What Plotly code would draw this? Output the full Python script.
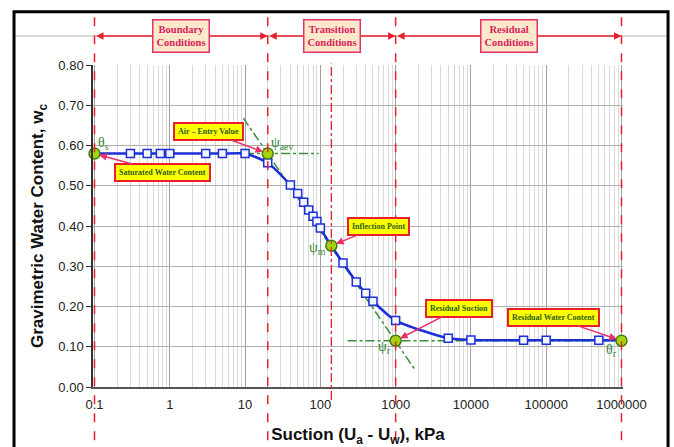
import math
import plotly.graph_objects as go

# ---------------- data ----------------
sq_suction = [0.3, 0.5, 0.75, 1, 3, 5, 10, 20, 40, 50, 60, 70, 80, 90, 100,
              200, 300, 400, 500, 1000, 5000, 10000, 50000, 100000, 500000]
sq_water = [0.58, 0.58, 0.58, 0.58, 0.58, 0.58, 0.58, 0.557, 0.502, 0.481, 0.459,
            0.440, 0.424, 0.411, 0.395, 0.308, 0.261, 0.233, 0.213, 0.165,
            0.121, 0.117, 0.116, 0.116, 0.116]

key_suction = [0.1, 20, 140, 1000, 1000000]
key_water = [0.58, 0.58, 0.351, 0.115, 0.115]

curve_suction = [0.1] + sq_suction[:15] + [140] + sq_suction[15:] + [1000000]
curve_water = [0.58] + sq_water[:15] + [0.351] + sq_water[15:] + [0.116]

aev_line_x = [10, 95]
aev_line_y = [0.58, 0.58]
tangent_x = [9.5, 1850]
tangent_y = [0.668, 0.040]
res_line_x = [230, 1000000]
res_line_y = [0.115, 0.115]

zone_bounds = [0.1, 20, 1000, 1000000]
zone_labels = ["Boundary<br>Conditions", "Transition<br>Conditions", "Residual<br>Conditions"]
inflection_x = 140

x_tickvals = [0.1, 1, 10, 100, 1000, 10000, 100000, 1000000]
x_ticktext = ["0.1", "1", "10", "100", "1000", "10000", "100000", "1000000"]
y_tickvals = [0.0, 0.1, 0.2, 0.3, 0.4, 0.5, 0.6, 0.7, 0.8]

callouts = [  # text, head (x, y), tail (x, y)
    ("Saturated Water Content", 0.1, 0.58, 0.81, 0.533),
    ("Air \u2013 Entry Value", 20, 0.58, 3.3, 0.634),
    ("Inflection Point", 140, 0.351, 592, 0.399),
    ("Residual Suction", 1000, 0.115, 6900, 0.196),
    ("Residual Water Content", 1000000, 0.115, 123600, 0.173),
]
greek = [  # text, x, y
    ("\u03b8<sub>s</sub>", 0.132, 0.606),
    ("\u03c8<sub>aev</sub>", 31, 0.606),
    ("\u03c8<sub>m</sub>", 93, 0.343),
    ("\u03c8<sub>r</sub>", 720, 0.097),
    ("\u03b8<sub>r</sub>", 740000, 0.090),
]

# ---------------- figure ----------------
BLUE = "#1c2fd8"
GREEN_DD = "#3c8c3c"
RED = "#e8202e"
PINK = "#e8306a"

fig = go.Figure()

fig.add_trace(go.Scatter(x=aev_line_x, y=aev_line_y, mode="lines",
                         line=dict(color=GREEN_DD, width=1.5, dash="dashdot"), hoverinfo="skip"))
fig.add_trace(go.Scatter(x=tangent_x, y=tangent_y, mode="lines",
                         line=dict(color=GREEN_DD, width=1.5, dash="dashdot"), hoverinfo="skip"))
fig.add_trace(go.Scatter(x=res_line_x, y=res_line_y, mode="lines",
                         line=dict(color=GREEN_DD, width=1.5, dash="dashdot"), hoverinfo="skip"))

fig.add_trace(go.Scatter(x=curve_suction, y=curve_water, mode="lines",
                         line=dict(color=BLUE, width=2.5, shape="spline", smoothing=0.6)))
fig.add_trace(go.Scatter(x=sq_suction, y=sq_water, mode="markers",
                         marker=dict(symbol="square", size=8, color="#f4f6ff",
                                     line=dict(color=BLUE, width=1.5))))
fig.add_trace(go.Scatter(x=key_suction, y=key_water, mode="markers", cliponaxis=False,
                         marker=dict(symbol="circle", size=11, color="#a6d40a",
                                     line=dict(color="#3f7d12", width=1.5))))

shapes = []
# outer frame
shapes.append(dict(type="rect", xref="paper", yref="paper", x0=-0.149, x1=1.085,
                   y0=-0.3, y1=1.165, line=dict(color="black", width=3), layer="above"))
# light gray line at top
shapes.append(dict(type="line", xref="paper", yref="paper", x0=-0.149, x1=1.085,
                   y0=1.09, y1=1.09, line=dict(color="#d0d0d0", width=1.5), layer="below"))
# zone boundary red dashed lines
for b in zone_bounds:
    shapes.append(dict(type="line", xref="x", yref="paper", x0=b, x1=b, y0=-0.165, y1=1.165,
                       line=dict(color=RED, width=1.5, dash="dash"), layer="above"))
shapes.append(dict(type="line", xref="x", yref="paper", x0=inflection_x, x1=inflection_x,
                   y0=-0.04, y1=1.005, line=dict(color=RED, width=1.3, dash="dashdot"), layer="above"))

annotations = []
# double arrows between zones
for a, b in zip(zone_bounds[:-1], zone_bounds[1:]):
    annotations.append(dict(x=math.log10(b), y=1.09, xref="x", yref="paper",
                            ax=math.log10(a), ay=0, axref="x", ayref="pixel",
                            text="", showarrow=True, arrowhead=2, arrowside="end+start",
                            arrowsize=1, arrowwidth=1.5, arrowcolor=RED, standoff=0,
                            startstandoff=0))
for (a, b), lab in zip(zip(zone_bounds[:-1], zone_bounds[1:]), zone_labels):
    mid = (math.log10(a) + math.log10(b)) / 2
    annotations.append(dict(x=mid, y=1.09, xref="x", yref="paper", text="<b>" + lab + "</b>",
                            xanchor="center", yanchor="middle",
                            showarrow=False, bgcolor="#fde9c9", bordercolor=PINK, borderwidth=1.5,
                            borderpad=3,
                            font=dict(family="Liberation Serif", size=10.5, color="#d81b5c")))
for txt, hx, hy, tx, ty in callouts:
    annotations.append(dict(x=math.log10(hx), y=hy, xref="x", yref="y",
                            ax=math.log10(tx), ay=ty, axref="x", ayref="y",
                            text="<b>" + txt + "</b>", showarrow=True, arrowhead=2,
                            arrowsize=1, arrowwidth=1.5, arrowcolor=PINK, standoff=5,
                            bgcolor="#ffff00", bordercolor=RED, borderwidth=2, borderpad=3,
                            font=dict(family="Liberation Serif", size=8, color="#2b5e1a")))
for txt, gx, gy in greek:
    annotations.append(dict(x=math.log10(gx), y=gy, xref="x", yref="y", text=txt,
                            showarrow=False,
                            font=dict(family="Liberation Serif", size=14, color="#2f852f")))

fig.update_layout(
    width=674, height=447,
    margin=dict(l=93, r=51, t=65, b=60, autoexpand=False),
    paper_bgcolor="white", plot_bgcolor="white",
    showlegend=False,
    shapes=shapes, annotations=annotations,
    font=dict(family="Liberation Sans", color="#222"),
    xaxis=dict(type="log", range=[-1.02, 6.02], tickvals=x_tickvals, ticktext=x_ticktext,
               automargin=False, ticklabelstandoff=5,
               showgrid=True, gridcolor="#a0a0a0", gridwidth=1,
               minor=dict(showgrid=True, gridcolor="#d9d9d9", gridwidth=1, dtick="D1"),
               showline=True, linecolor="#555", linewidth=1.5, ticks="", ticklen=0,
               tickfont=dict(size=13, color="#222"), zeroline=False,
               title=dict(text="<b>Suction (U<sub>a</sub> - U<sub>w</sub>), kPa</b>",
                          font=dict(size=17, color="#111"), standoff=22)),
    yaxis=dict(range=[0, 0.8], tickvals=y_tickvals, tickformat=".2f",
               automargin=False,
               showgrid=True, gridcolor="#b0b0b0", gridwidth=1,
               showline=True, linecolor="#333", linewidth=1.5,
               ticks="outside", ticklen=5, tickcolor="#333",
               tickfont=dict(size=13, color="#222"), zeroline=False,
               title=dict(text="<b>Gravimetric Water Content, w<sub>c</sub></b>",
                          font=dict(size=17, color="#111"), standoff=10)),
)

fig.write_html("out.html")
